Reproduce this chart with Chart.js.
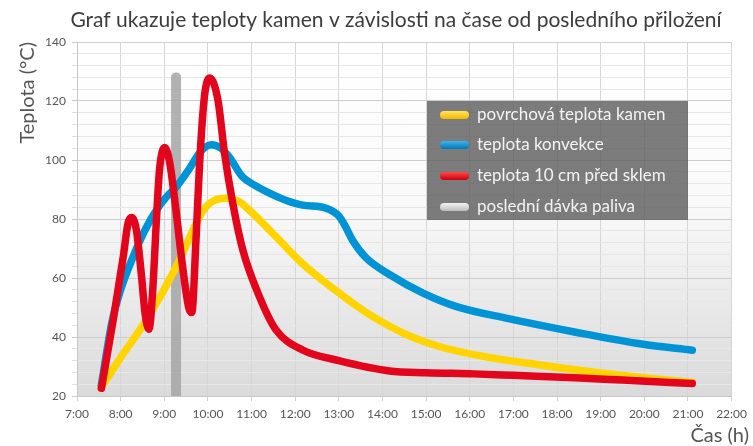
<!DOCTYPE html>
<html><head><meta charset="utf-8">
<script src="https://cdn.jsdelivr.net/npm/chart.js@4.4.1/dist/chart.umd.min.js"></script>
<style>html,body{margin:0;padding:0;background:#fff;}canvas{display:block;}</style>
</head><body>
<canvas id="c" width="753" height="446"></canvas>
<script>
// ---- data (time in hours, temperature in °C) ----
const titleText = 'Graf ukazuje teploty kamen v závislosti na čase od posledního přiložení';
const yTitle = 'Teplota (°C)';
const xTitle = 'Čas (h)';
const seriesNames = ['povrchová teplota kamen', 'teplota konvekce', 'teplota 10 cm před sklem', 'poslední dávka paliva'];

const stoneT = [7.55, 8.0, 8.6, 9.28, 9.81, 9.96, 10.15, 10.42, 10.7, 10.95, 11.56, 12.1, 12.62, 13.0, 13.46, 13.78, 14.55, 15.32, 16.47, 17.63, 19.17, 21.1];
const stoneV = [22.8, 33, 46, 64, 80.8, 84.2, 86.3, 87, 86, 83, 74, 65.8, 59.3, 55, 50, 46.9, 40.8, 36.7, 33, 30.5, 27.5, 24.6];

const convT = [7.55, 7.8, 8.0, 8.28, 8.55, 8.82, 9.05, 9.28, 9.55, 9.81, 9.95, 10.08, 10.3, 10.49, 10.79, 11.1, 11.41, 11.8, 12.17, 12.7, 13.0, 13.15, 13.31, 13.62, 14.16, 14.93, 15.7, 16.86, 18.4, 19.94, 21.1];
const convV = [23, 45, 56, 67, 76, 83, 87.5, 91, 96.5, 102.4, 104.5, 105.2, 104, 101, 94.3, 91.2, 88.8, 86.3, 84.7, 83.7, 81, 77.5, 72.9, 66.9, 61.2, 54.9, 50.3, 46.3, 41.7, 37.6, 35.5];

const glassT = [7.56, 7.83, 8.06, 8.17, 8.25, 8.36, 8.48, 8.56, 8.65, 8.74, 8.82, 8.89, 9.01, 9.12, 9.24, 9.43, 9.56, 9.63, 9.73, 9.81, 9.92, 10.04, 10.23, 10.38, 10.57, 10.8, 11.18, 11.56, 12.17, 13.0, 14.16, 15.0, 16.09, 17.0, 18.4, 19.5, 21.1];
const glassV = [22.6, 45.8, 67.2, 78.6, 80.5, 76.3, 60.4, 48, 42.6, 57, 79.7, 96.6, 104.2, 99.5, 86.4, 62.7, 50, 48.3, 74, 99, 121.5, 127.8, 120.3, 102.4, 85.3, 69.5, 53.7, 42.4, 35.6, 32, 28.5, 27.9, 27.5, 27, 26.2, 25.4, 24.2];

const fuelT = [9.27, 9.27];
const fuelV = [20, 128];

const yTicks = [20, 40, 60, 80, 100, 120, 140];
const xTickHours = [7, 8, 9, 10, 11, 12, 13, 14, 15, 16, 17, 18, 19, 20, 21, 22];

const pts = (t, v) => t.map((x, i) => ({x, y: v[i]}));
const FONT = 'Lato, "Open Sans", sans-serif';
const colors = ['#ffd400', '#0094d6', '#e3051b', '#b4b4b4'];
const swatch = [['#ffe65a', '#f6b800'], ['#3fb4ea', '#0078b8'], ['#ff4a4a', '#c80010'], ['#f2f2f2', '#bdbdbd']];

const deco = {
  id: 'deco',
  beforeDraw(chart) {
    const {ctx, chartArea: a} = chart;
    const g = ctx.createLinearGradient(0, a.top, 0, a.bottom);
    g.addColorStop(0, '#ffffff');
    g.addColorStop(0.45, '#fafafa');
    g.addColorStop(1, '#dadada');
    ctx.save();
    ctx.fillStyle = g;
    ctx.fillRect(a.left, a.top, a.right - a.left, a.bottom - a.top);
    ctx.restore();
  },
  afterDraw(chart) {
    const ctx = chart.ctx;
    ctx.save();
    // chart title
    ctx.fillStyle = '#3c3c3c';
    ctx.font = '21px ' + FONT;
    ctx.textAlign = 'center';
    ctx.textBaseline = 'middle';
    ctx.fillText(titleText, 396, 20);
    // axis titles
    ctx.fillStyle = '#555';
    ctx.font = '20px ' + FONT;
    ctx.textAlign = 'right';
    ctx.textBaseline = 'alphabetic';
    ctx.fillText(xTitle, 749, 442);
    ctx.save();
    ctx.translate(34, 42);
    ctx.rotate(-Math.PI / 2);
    ctx.font = '20px ' + FONT;
    ctx.textAlign = 'right';
    ctx.textBaseline = 'alphabetic';
    ctx.fillText(yTitle, 0, 0);
    ctx.restore();
    // legend box
    const bx = 427, by = 101, bw = 261, bh = 119;
    ctx.fillStyle = 'rgba(95,95,95,0.82)';
    ctx.fillRect(bx, by, bw, bh);
    ctx.font = '17px ' + FONT;
    ctx.textAlign = 'left';
    ctx.textBaseline = 'middle';
    const rows = [115, 145, 176, 207];
    seriesNames.forEach((name, i) => {
      const y = rows[i];
      const g = ctx.createLinearGradient(0, y - 4, 0, y + 4);
      g.addColorStop(0, swatch[i][0]);
      g.addColorStop(1, swatch[i][1]);
      ctx.fillStyle = g;
      ctx.beginPath();
      ctx.roundRect(440, y - 4, 29, 8, 4);
      ctx.fill();
      ctx.fillStyle = '#f4f4f4';
      ctx.fillText(name, 477, y);
    });
    ctx.restore();
  }
};

new Chart(document.getElementById('c'), {
  type: 'line',
  data: {
    datasets: [
      {label: seriesNames[0], data: pts(stoneT, stoneV), borderColor: colors[0], order: 2},
      {label: seriesNames[1], data: pts(convT, convV), borderColor: colors[1], order: 3},
      {label: seriesNames[2], data: pts(glassT, glassV), borderColor: colors[2], order: 1},
      {label: seriesNames[3], data: pts(fuelT, fuelV), borderColor: 'rgba(165,165,165,0.85)', borderWidth: 10, order: 4, cubicInterpolationMode: 'default', tension: 0}
    ]
  },
  options: {
    responsive: false,
    animation: false,
    events: [],
    layout: {padding: {left: 0, right: 20, top: 42, bottom: 0}},
    elements: {
      point: {radius: 0},
      line: {borderWidth: 7.5, cubicInterpolationMode: 'monotone', borderCapStyle: 'round', borderJoinStyle: 'round', fill: false}
    },
    plugins: {
      legend: {display: false},
      tooltip: {enabled: false},
      title: {display: false}
    },
    scales: {
      x: {
        type: 'linear', min: 7, max: 22,
        afterFit(s) { s.height = 50; },
        afterBuildTicks(s) { s.ticks = xTickHours.map(v => ({value: v})); },
        ticks: {autoSkip: false, maxRotation: 0, padding: 6, color: '#555', font: {family: FONT, size: 12}, callback: v => v + ':00'},
        grid: {color: '#d6d6d6', tickLength: 5, tickColor: '#cfcfcf'},
        border: {color: '#c8c8c8'}
      },
      y: {
        min: 20, max: 140,
        afterFit(s) { s.width = 77; },
        ticks: {stepSize: 4, autoSkip: false, padding: 6, color: '#555', font: {family: FONT, size: 12},
          callback: v => yTicks.includes(v) ? v : ''},
        grid: {tickLength: 5,
          color: c => (c.tick && yTicks.includes(c.tick.value)) ? '#cdcdcd' : '#e7e7e7',
          tickColor: c => (c.tick && yTicks.includes(c.tick.value)) ? '#c8c8c8' : '#e0e0e0'},
        border: {color: '#c8c8c8'}
      }
    }
  },
  plugins: [deco]
});
</script>
</body></html>
